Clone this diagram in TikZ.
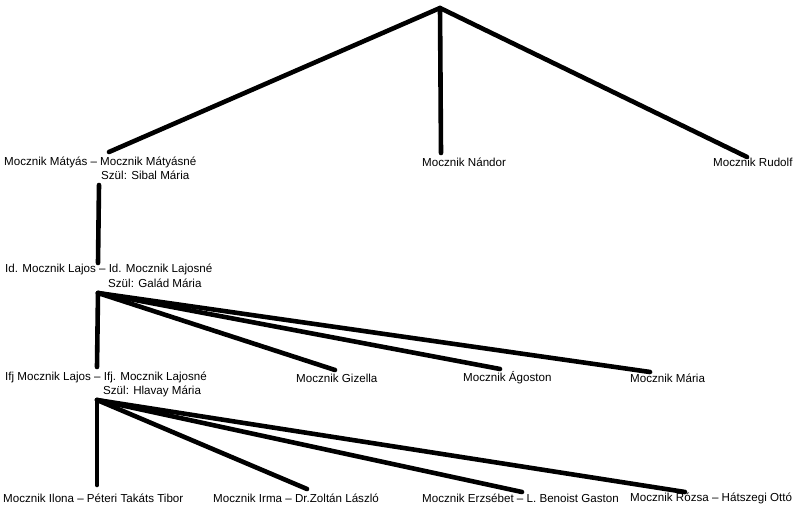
\documentclass[tikz,border=0pt]{standalone}
\usepackage{fontspec}
\setmainfont{Liberation Sans}
\tikzset{
  person/.style={anchor=west, inner sep=0pt, font=\fontsize{11.6}{13}\selectfont},
  branch/.style={line width=4.6pt, line cap=round}
}
\begin{document}
\begin{tikzpicture}[x=1pt, y=-1pt]
    \useasboundingbox (0, 0) rectangle (800, 513);
    % names
    \node [person] (matyas) at (4, 162) {Mocznik Mátyás -- Mocznik Mátyásné};
    \node [person] (matyasszul) at (101, 175) {Szül: Sibal Mária};
    \node [person] (nandor) at (422, 162) {Mocznik Nándor};
    \node [person] (rudolf) at (713, 162) {Mocznik Rudolf};
    \node [person] (lajos) at (5, 269) {Id. Mocznik Lajos -- Id. Mocznik Lajosné};
    \node [person] (lajosszul) at (108, 283) {Szül: Galád Mária};
    \node [person] (ifjlajos) at (5, 377) {Ifj Mocznik Lajos -- Ifj. Mocznik Lajosné};
    \node [person] (ifjszul) at (103, 391) {Szül: Hlavay Mária};
    \node [person] (gizella) at (296, 378) {Mocznik Gizella};
    \node [person] (agoston) at (463, 378) {Mocznik Ágoston};
    \node [person] (maria) at (630, 378) {Mocznik Mária};
    \node [person] (ilona) at (3, 498) {Mocznik Ilona -- Péteri Takáts Tibor};
    \node [person] (irma) at (213, 498) {Mocznik Irma -- Dr.Zoltán László};
    \node [person] (erzsebet) at (422, 498) {Mocznik Erzsébet -- L. Benoist Gaston};
    \node [person] (rozsa) at (630, 498) {Mocznik Rózsa -- Hátszegi Ottó};
    % branch points and line ends
    \coordinate (top) at (440, 8);
    \coordinate (matyasend) at (109, 152);
    \coordinate (nandorend) at (441, 153);
    \coordinate (rudolfend) at (747, 157);
    \coordinate (matyasdown) at (99, 185);
    \coordinate (lajosup) at (98, 263);
    \coordinate (lajosfork) at (98, 293);
    \coordinate (lajosdown) at (97, 367);
    \coordinate (gizellaend) at (335, 370);
    \coordinate (agostonend) at (500, 369);
    \coordinate (mariaend) at (650, 372);
    \coordinate (ifjfork) at (97, 400);
    \coordinate (ilonaend) at (97, 485);
    \coordinate (irmaend) at (307, 489);
    \coordinate (erzsebetend) at (522, 492);
    \coordinate (rozsaend) at (685, 492);
    % lines
    \draw [branch] (top) -- (matyasend);
    \draw [branch] (top) -- (nandorend);
    \draw [branch] (top) -- (rudolfend);
    \draw [branch] (matyasdown) -- (lajosup);
    \draw [branch] (lajosfork) -- (lajosdown);
    \draw [branch] (lajosfork) -- (gizellaend);
    \draw [branch] (lajosfork) -- (agostonend);
    \draw [branch] (lajosfork) -- (mariaend);
    \draw [branch] (ifjfork) -- (ilonaend);
    \draw [branch] (ifjfork) -- (irmaend);
    \draw [branch] (ifjfork) -- (erzsebetend);
    \draw [branch] (ifjfork) -- (rozsaend);
\end{tikzpicture}
\end{document}
